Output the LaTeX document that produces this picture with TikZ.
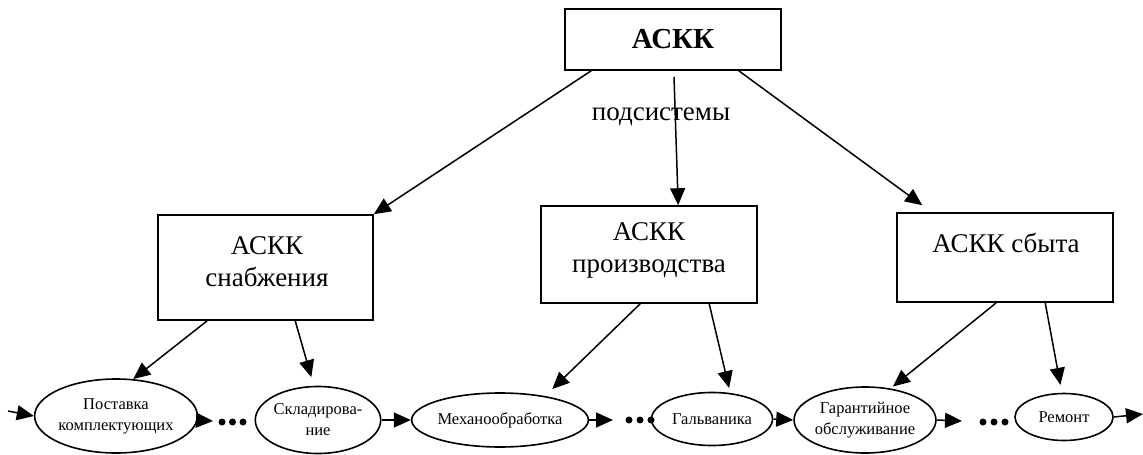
\documentclass[tikz,border=0pt]{standalone}
\usepackage{fontspec}
\setmainfont{Liberation Serif}
\usetikzlibrary{arrows.meta,shapes.geometric,calc}
\tikzset{
  box/.style={draw, line width=1.6pt, rectangle, inner sep=0pt, align=center,
    font=\fontsize{27}{32}\selectfont},
  oval/.style={draw, line width=1.6pt, ellipse, inner sep=0pt, align=center,
    font=\fontsize{16.5}{21}\selectfont},
  arr/.style={line width=1.5pt, -{Triangle[length=17pt,width=15pt]}},
  dotn/.style={circle, fill, inner sep=0pt, minimum size=7pt},
  lbl/.style={inner sep=0pt, font=\fontsize{27}{32}\selectfont}
}
\begin{document}
\begin{tikzpicture}[x=1pt,y=-1pt]
\useasboundingbox (0,0) rectangle (1143,455);
% boxes
\node[box, minimum width=216pt, minimum height=61pt, font=\fontsize{29}{34}\selectfont\bfseries] (top) at (673,39.5) {АСКК};
\node[box, minimum width=215pt, minimum height=105pt] (sn) at (265.5,267.5) {};
\node[lbl, align=center] (snt) at (267,262) {АСКК\\снабжения};
\node[box, minimum width=216pt, minimum height=97pt] (pr) at (649,254.5) {};
\node[lbl, align=center] (prt) at (649,250) {АСКК\\производства};
\node[box, minimum width=216pt, minimum height=89pt] (sb) at (1005,257.5) {};
\node[lbl] (sbt) at (1006,243) {АСКК сбыта};
\node[lbl] (sub) at (661,117) {подсистемы};
% ellipses
\node[oval, minimum width=144pt, minimum height=74pt] (post) at (116,416) {Поставка\\комплектующих};
\node[oval, minimum width=124pt, minimum height=67pt] (skl) at (318,420) {Складирова-\\ние};
\node[oval, minimum width=170pt, minimum height=54pt] (mex) at (500,420) {Механообработка};
\node[oval, minimum width=121pt, minimum height=53pt] (galv) at (712,419) {Гальваника};
\node[oval, minimum width=132pt, minimum height=66pt] (gar) at (865,420) {Гарантийное\\обслуживание};
\node[oval, minimum width=98pt, minimum height=47pt] (rem) at (1064,417) {Ремонт};
% dots
\node[dotn] (a1) at (222,422) {};
\node[dotn] (a2) at (232.5,422) {};
\node[dotn] (a3) at (243,422) {};
\node[dotn] (b1) at (629,420) {};
\node[dotn] (b2) at (640,420) {};
\node[dotn] (b3) at (651,420) {};
\node[dotn] (c1) at (983,422) {};
\node[dotn] (c2) at (994,422) {};
\node[dotn] (c3) at (1005,422) {};
% free ends
\coordinate (in) at (8,411);
\coordinate (tA) at (213,421);
\coordinate (tB) at (613,420);
\coordinate (tC) at (962,421);
\coordinate (out) at (1143,414);
% top arrows
\draw[arr] ($(top.south west)+(27,0)$) -- (sn.north east);
\draw[arr] ($(top.south)+(1,6)$) -- ($(pr.north west)+(138,0)$);
\draw[arr] ($(top.south east)+(-43,0)$) -- ($(sb.north west)+(26,-7)$);
% box to ellipse arrows
\draw[arr] ($(sn.south west)+(50,0)$) -- (post.65);
\draw[arr, shorten >=9pt] ($(sn.south west)+(138,0)$) -- (skl.97);
\draw[arr, shorten >=10pt] ($(pr.south west)+(100,0)$) -- (mex.28);
\draw[arr, shorten >=5pt] ($(pr.south west)+(169,0)$) -- (galv.55);
\draw[arr, shorten >=3pt] ($(sb.south west)+(100,0)$) -- (gar.51);
\draw[arr, shorten >=8pt] ($(sb.south west)+(149,0)$) -- (rem.95);
% bottom row
\draw[arr] (in) -- (post.west);
\draw[arr] (post.-3) -- (tA);
\draw[arr] (skl.east) -- (mex.west);
\draw[arr] (mex.east) -- (tB);
\draw[arr] (galv.east) -- (gar.west);
\draw[arr] (gar.east) -- (tC);
\draw[arr] (rem.east) -- (out);
\end{tikzpicture}
\end{document}
